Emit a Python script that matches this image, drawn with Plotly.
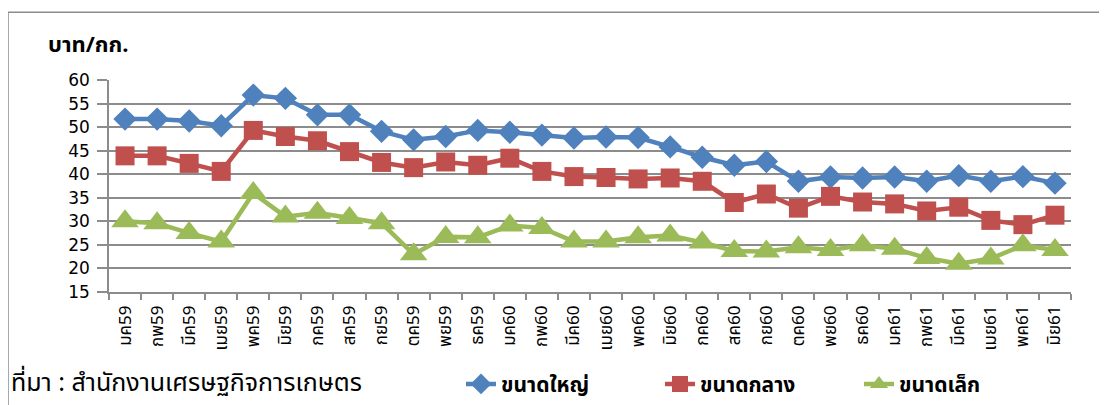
import plotly.graph_objects as go

months = ["มค59", "กพ59", "มีค59", "เมย59", "พค59", "มิย59", "กค59", "สค59", "กย59", "ตค59",
          "พย59", "ธค59", "มค60", "กพ60", "มีค60", "เมย60", "พค60", "มิย60", "กค60", "สค60",
          "กย60", "ตค60", "พย60", "ธค60", "มค61", "กพ61", "มีค61", "เมย61", "พค61", "มิย61"]

large = [51.7, 51.7, 51.3, 50.3, 56.8, 56.1, 52.6, 52.6, 49.1, 47.3,
         48.0, 49.3, 48.9, 48.3, 47.7, 47.9, 47.8, 45.8, 43.6, 41.9,
         42.7, 38.5, 39.4, 39.2, 39.4, 38.5, 39.7, 38.5, 39.5, 38.1]

medium = [43.9, 43.9, 42.3, 40.6, 49.3, 48.0, 47.1, 44.8, 42.5, 41.4,
          42.6, 41.9, 43.4, 40.6, 39.5, 39.3, 39.0, 39.2, 38.5, 34.0,
          35.8, 32.8, 35.3, 34.1, 33.7, 32.2, 33.0, 30.2, 29.3, 31.3]

small = [30.0, 29.6, 27.5, 25.7, 36.0, 31.0, 31.8, 30.7, 29.6, 23.0,
         26.7, 26.6, 29.1, 28.6, 25.7, 25.7, 26.6, 27.0, 25.5, 23.7,
         23.6, 24.5, 23.9, 24.9, 24.2, 22.2, 21.0, 22.1, 24.9, 23.9]

series_names = ["ขนาดใหญ่", "ขนาดกลาง", "ขนาดเล็ก"]
y_ticks = [15, 20, 25, 30, 35, 40, 45, 50, 55, 60]

FONT = "'Noto Sans Thai', Tahoma, 'DejaVu Sans', sans-serif"
NUMFONT = "'DejaVu Sans', Verdana, sans-serif"
GRID = "#8c8c8c"

# The page body adds an 8px offset; lay out in screen pixels and compensate.
OFF = 8
W, H = 1107, 405
X0, X1 = 109 - OFF, 1071 - OFF      # plot area left/right in figure px
Y0, Y1 = 80 - OFF, 292.5 - OFF      # plot area top/bottom in figure px
PW, PH = X1 - X0, Y1 - Y0


def px(x):
    return (x - OFF - X0) / PW


def py(y):
    return (Y1 - (y - OFF)) / PH


fig = go.Figure()
fig.add_trace(go.Scatter(x=months, y=large, name=series_names[0], mode="lines+markers",
                         line=dict(color="#4F81BD", width=4.5),
                         marker=dict(symbol="diamond", size=18, color="#4F81BD")))
fig.add_trace(go.Scatter(x=months, y=medium, name=series_names[1], mode="lines+markers",
                         line=dict(color="#C0504D", width=4.5),
                         marker=dict(symbol="square", size=19, color="#C0504D")))
fig.add_trace(go.Scatter(x=months, y=small, name=series_names[2], mode="lines+markers",
                         line=dict(color="#9BBB59", width=4.5),
                         marker=dict(symbol="triangle-up", size=24, color="#9BBB59")))

fig.update_layout(
    width=W, height=H,
    margin=dict(l=X0, r=W - X1, t=Y0, b=H - Y1, autoexpand=False),
    paper_bgcolor="white", plot_bgcolor="white",
    font=dict(family=FONT, color="black"),
    showlegend=True,
    legend=dict(orientation="h", x=px(461), xanchor="left", y=py(385), yanchor="middle",
                font=dict(size=21, family=FONT, color="black", weight="bold"),
                entrywidth=154, entrywidthmode="pixels",
                bgcolor="rgba(0,0,0,0)", traceorder="normal"),
    xaxis=dict(type="category", showgrid=False, showline=True, linecolor=GRID, linewidth=1.5,
               ticks="outside", tickson="boundaries", ticklen=6, tickcolor=GRID, tickwidth=1.5,
               tickangle=-90, tickfont=dict(size=17, family=FONT, color="black"),
               ticklabelstandoff=5, automargin=False,
               range=[-0.5, len(months) - 0.5]),
    yaxis=dict(range=[15, 60], tickvals=y_ticks, showgrid=True, gridcolor=GRID, gridwidth=1.5,
               showline=True, linecolor=GRID, linewidth=1.5, ticks="outside", ticklen=10,
               tickcolor=GRID, tickwidth=1.5, zeroline=False, automargin=False,
               ticklabelstandoff=4,
               tickfont=dict(size=17, family=NUMFONT, color="black")),
)

# outer chart border (extends beyond the visible frame on right and bottom)
fig.add_shape(type="rect", xref="paper", yref="paper",
              x0=px(8), x1=px(1125), y0=py(430), y1=py(12),
              line=dict(color="#8c8c8c", width=1.5), fillcolor="rgba(0,0,0,0)", layer="below")

fig.add_annotation(text="บาท/กก.", xref="paper", yref="paper",
                   x=px(46), y=py(45), xanchor="left", yanchor="middle",
                   showarrow=False, font=dict(size=22, family=FONT, color="black", weight="bold"))

fig.add_annotation(text="ที่มา : สำนักงานเศรษฐกิจการเกษตร", xref="paper", yref="paper",
                   x=px(9), y=py(384), xanchor="left", yanchor="middle",
                   showarrow=False, font=dict(size=25, family=FONT, color="black"))

fig.write_html("out.html")
